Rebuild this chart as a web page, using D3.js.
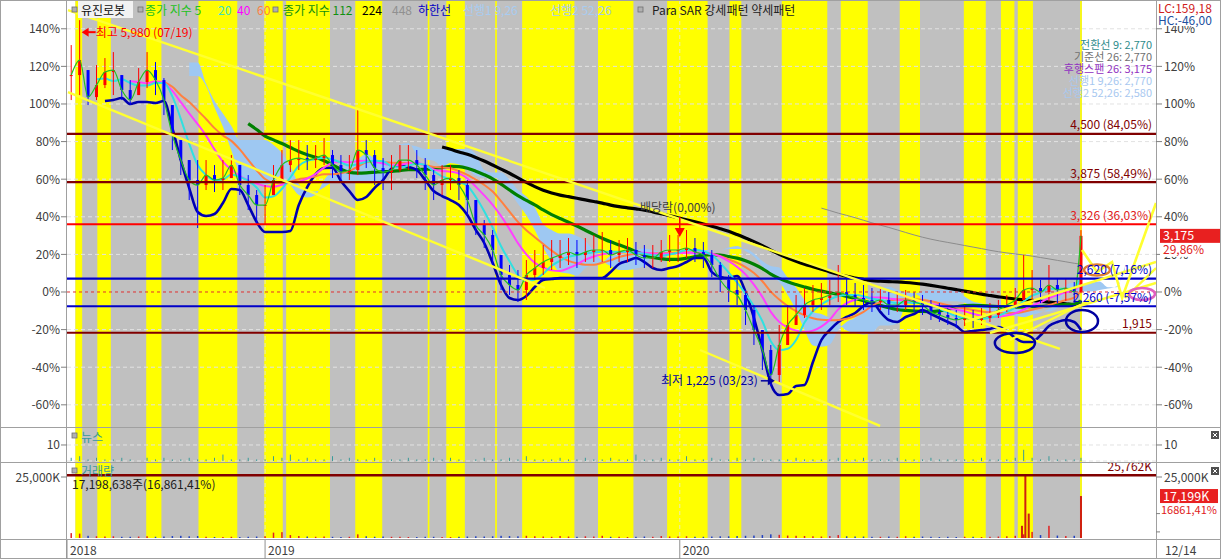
<!DOCTYPE html>
<html><head><meta charset="utf-8"><title>유진로봇</title>
<script src="https://cdn.jsdelivr.net/npm/d3@7/dist/d3.min.js"></script>
<style>
html,body{margin:0;padding:0;background:#fff;}
svg{display:block;}
text{font-family:"Noto Sans CJK KR","Noto Sans",sans-serif;font-size:12px;}
</style></head><body>
<svg id="chart" width="1221" height="559"></svg>
<script>
// ---------------- DATA ----------------
const basePrice = 2445;           // 0% reference price
const daysPerSample = 5;          // one sample per trading week
const lastDay = 601;              // index of last trading day (12/14)
const closePrice = [5266,5461,4980,5136,5305,5331,5071,4941,5175,5331,
 5201,4941,4486,4161,3901,3836,3966,3901,3927,4096,
 3836,3706,3576,3576,3901,4096,4161,4187,4161,4187,
 4226,4096,4005,4031,4291,4226,4057,4005,4031,4161,
 4161,4096,3966,3836,3901,3927,3836,3641,3316,3186,
 2991,2666,2536,2471,2666,2757,2835,2887,2926,2965,
 2926,2965,2991,2991,2926,2965,2991,2926,2887,2887,
 2965,2991,2991,3017,2965,2926,2796,2601,2471,2406,
 2211,1951,1691,1366,1756,2016,2146,2276,2341,2367,
 2406,2445,2406,2367,2341,2315,2341,2276,2276,2341,
 2315,2276,2185,2146,2107,2081,2107,2081,2107,2146,
 2211,2276,2341,2471,2497,2445,2536,2471,2497,2445,
 3175];
const highPrice = [5656,5980,5331,5396,5487,5565,5266,5201,5357,5565,
 5435,5227,4876,4421,4161,4161,4161,4096,4161,4226,
 4096,3966,3771,3836,4096,4291,4421,4421,4356,4356,
 4447,4291,4226,4226,4837,4421,4291,4187,4226,4356,
 4356,4291,4187,4031,4096,4096,4031,3901,3641,3381,
 3251,2926,2796,2731,2861,2991,3056,3121,3121,3147,
 3121,3147,3186,3225,3121,3121,3147,3095,3056,3056,
 3121,3186,3186,3251,3147,3095,2991,2835,2666,2601,
 2471,2276,1951,1756,2016,2276,2406,2497,2536,2562,
 2601,2796,2627,2562,2536,2497,2497,2445,2445,2471,
 2445,2406,2341,2302,2237,2211,2276,2211,2237,2302,
 2341,2406,2497,2926,2731,2601,2796,2627,2627,2575,
 3250];
const lowPrice = [4941,5006,4876,4941,5097,5006,4941,4876,5006,5097,
 5006,4746,4291,3966,3641,3277,3771,3745,3771,3927,
 3706,3511,3316,3316,3706,3901,4005,4031,4031,4057,
 4096,3927,3875,3901,3966,4057,3836,3771,3771,4005,
 4031,3927,3771,3641,3706,3771,3641,3446,3186,3017,
 2796,2471,2406,2315,2341,2601,2666,2731,2757,2796,
 2757,2835,2835,2835,2757,2835,2835,2796,2757,2757,
 2835,2835,2835,2887,2835,2757,2640,2445,2315,2276,
 2016,1756,1431,1225,1275,1756,2016,2107,2185,2211,
 2276,2315,2276,2263,2211,2185,2211,2146,2185,2211,
 2185,2146,2081,2055,2016,1977,2003,1977,2016,2055,
 2107,2185,2237,2341,2300,2300,2320,2300,2330,2300,
 2430];
const lowerBandFirst = 4;          // first sample of the 하한선
const lowerBand = [4928,4941,4967,4889,4915,4915,4902,4928,4577,4161,
 3797,3485,3433,3459,3602,3784,3771,3576,3355,3225,
 3225,3225,3238,3576,3810,3979,4057,4060,3888,3758,
 3641,3680,3800,3900,4050,4096,4070,4031,3901,3758,
 3693,3641,3576,3446,3251,3082,2822,2536,2367,2341,
 2393,2510,2601,2614,2627,2627,2627,2627,2627,2627,
 2705,2809,2848,2887,2835,2757,2731,2757,2783,2835,
 2887,2887,2705,2640,2627,2653,2445,2107,1691,1249,
 1106,1119,1223,1236,1535,1821,1951,2055,2120,2172,
 2263,2315,2185,2081,2055,2120,2159,2211,2159,2107,
 2055,2003,1925,1938,1951,1964,1990,1938,1847,1795,
 1795,1882,2003,2055,2081,2055,1951];
// Parabolic SAR bullish (yellow) runs, in trading-day indices
const sarFirstDay = 5;
const bullStart = [5,18,47,78,117,130,171,214,225,254,270,315,356,393,424,459,494,532,554,564,601];
const bullEnd   = [9,26,56,101,128,156,187,215,236,255,301,336,380,400,451,475,506,545,562,573,602];
// moving averages
const maDays   = [448,224,112,60,40,20,5];
const maColors = ['#8c8c8c','#000000','#008000','#ff8040','#ff40ff','#30e0e0','#22c022'];
const maWidths = [1,3.2,3.2,2,2,2,1.2];
// Ichimoku periods (days)
const ichiTenkan = 9, ichiKijun = 26, ichiSpanB = 52, ichiShift = 26;
// horizontal price levels
const levelPrices = [4500,3875,3326,2620,2260,1915];
const levelLabels = ['4,500 (84,05%)','3,875 (58,49%)','3,326 (36,03%)','2,620 (7,16%)','2,260 (-7,57%)','1,915'];
const levelColors = ['#800000','#800000','#ff0000','#0000c8','#0000c8','#800000'];
// axis ticks
const pctTicks = [140,120,100,80,60,40,20,0,-20,-40,-60];
const yearTickDays = [0,117.5,363.5];
const yearLabels = ['2018','2019','2020'];
const lastDateLabel = '12/14';
// Ichimoku value legend
const ichiLegend = ['전환선 9: 2,770','기준선 26: 2,770','후행스팬 26: 3,175','선행1 9,26: 2,770','선행2 52,26: 2,580'];
const ichiLegendColors = ['#2e8c8c','#707070','#9030c0','#a8c8f0','#a8c8f0'];
// volume (thousand shares): weekly typical, plus daily spikes
const volWeek = [2000,1800,900,700,600,700,500,500,600,700,
 500,600,800,900,700,800,500,400,400,500,
 400,500,600,700,2200,2400,1200,800,600,500,
 600,500,400,500,1500,700,500,600,500,500,
 400,400,500,500,400,400,500,600,700,600,
 700,900,800,700,900,700,600,500,800,600,
 500,700,600,900,500,500,400,500,600,500,
 800,600,600,700,500,500,600,700,700,800,
 900,1000,1200,1500,1300,1000,900,800,700,600,
 800,1200,700,600,600,500,500,600,500,700,
 500,600,500,400,500,400,500,500,400,500,
 600,700,900,1500,2500,1200,5000,1000,800,900];
const volSpikeDay = [566,568,570,601];
const volSpikeK   = [5000,25762,10000,17199];
const volMaxLevel = 25762;
// news counts per week
const newsWeek = [2,3,1,2,1,1,2,1,0,2,1,2,1,1,2,1,1,2,4,1,1,2,1,1,3,2,4,1,2,1,
 1,3,1,2,1,1,2,0,1,1,2,1,1,2,1,2,1,0,1,2,1,1,2,1,3,1,1,1,2,1,
 1,2,1,1,2,1,1,4,1,1,2,1,1,3,1,1,2,1,1,2,1,2,1,1,1,1,2,1,1,1,
 1,2,1,1,2,1,1,1,2,1,1,1,2,1,1,1,1,1,2,1,1,1,2,7,2,1,3,1,1,1,2];
// drawn trend lines (day, price)
const tlDay0   = [0.6,0.6,375.5,532.7,547.5,559.4,627.6];
const tlPrice0 = [6111,5045,1691,2055,1912,1821,2367];
const tlDay1   = [589,283.5,482.3,646,646,606.8,646];
const tlPrice1 = [1704,2497,703,2835,2562,2341,2757];
const zigDays   = [602.1,611,619.9,625.9,646];
const zigPrices = [2991,2705,2835,2367,3602];
// drawn ellipses (center day, center price, radius days, radius price)
const ellDay = [562.3,602.1,611,637.7];
const ellPrice = [1782,2068,2731,2419];
const ellRDay = [11.9,9.5,7.7,7.7];
const ellRPrice = [130,143,72,78];
const ellColors = ['#0000a0','#0000a0','#e08030','#e060c0'];
// annotations
const exDivDay = 363, exDivPrice = 3160;
const lastPctLabel = '29,86%';
const lastVolPctLabel = '16861,41%';
const volLabel = '17,198,638주(16,861,41%)';

// ---------------- SCALES ----------------
const svg = d3.select('#chart');
const L = 67, R = 1156;
const panels = [{top:0,bot:427},{top:428,bot:462},{top:463,bot:538}];
const x = d3.scaleLinear().domain([0,646]).range([L,R]);
const pctPrice = p => basePrice*(1+p/100);
const y = d3.scaleLinear().domain([pctPrice(-71.8), pctPrice(155.3)]).range([427,0]);
const yVol = d3.scaleLinear().domain([0,30738]).range([538,463]);
const yNews = d3.scaleLinear().domain([0,20.6]).range([461,428]);
const wc = i => Math.min(daysPerSample*i + daysPerSample/2, lastDay + 0.5);
const fmt = d3.format(',');

const defs = svg.append('defs');
panels.forEach((p,k)=>defs.append('clipPath').attr('id','clip'+k).append('rect')
  .attr('x',L).attr('y',p.top).attr('width',R-L).attr('height',p.bot-p.top));

// ---------------- BACKGROUND BANDS ----------------
panels.forEach(p=>{
  const g = svg.append('g');
  g.append('rect').attr('x',x(sarFirstDay)).attr('y',p.top).attr('width',x(lastDay+1)-x(sarFirstDay))
    .attr('height',p.bot-p.top).attr('fill','#c0c0c0');
  bullStart.forEach((s,k)=>g.append('rect').attr('x',x(s)).attr('y',p.top)
    .attr('width',x(bullEnd[k])-x(s)).attr('height',p.bot-p.top).attr('fill','#ffff00'));
});

// grid
const grid = svg.append('g');
pctTicks.filter(t=>t!==0).forEach(t=>grid.append('line').attr('x1',L).attr('x2',R)
  .attr('y1',y(pctPrice(t))).attr('y2',y(pctPrice(t))).attr('stroke','#e2e2e2').attr('stroke-dasharray','4,3'));
yearTickDays.slice(1).forEach(d=>grid.append('line').attr('x1',x(d)).attr('x2',x(d))
  .attr('y1',0).attr('y2',538).attr('stroke','#e6e6e6').attr('stroke-dasharray','4,3').attr('opacity',0.8));
[yNews(10), yNews(0)].forEach(v=>grid.append('line').attr('x1',L).attr('x2',R).attr('y1',v).attr('y2',v)
  .attr('stroke','#e2e2e2').attr('stroke-dasharray','4,3'));

// ---------------- MAIN PANEL ----------------
const gm = svg.append('g').attr('clip-path','url(#clip0)');

// Ichimoku cloud (weekly approximation of periods)
const nW = closePrice.length;
const wk = d => Math.round(d/daysPerSample);
const midHL = (i,n) => i<n-1 ? null :
  (d3.max(highPrice.slice(i-n+1,i+1)) + d3.min(lowPrice.slice(i-n+1,i+1)))/2;
const cloud = [];
for(let i=0;i<nW;i++){
  const t = midHL(i,wk(ichiTenkan)), k = midHL(i,wk(ichiKijun)), b = midHL(i,wk(ichiSpanB));
  if(t!==null && k!==null && b!==null) cloud.push({d: daysPerSample*(i+wk(ichiShift))+daysPerSample/2, a:(t+k)/2, b});
}
gm.append('path').datum(cloud).attr('fill','#9ec8f2')
  .attr('d', d3.area().x(d=>x(d.d)).y0(d=>y(d.a)).y1(d=>y(d.b)).curve(d3.curveMonotoneX));

const line = d3.line().defined(d=>d.v!==null).x(d=>x(d.d)).y(d=>y(d.v)).curve(d3.curveMonotoneX);
function maSeries(days){
  const n = wk(days);
  return closePrice.map((c,i)=>({d:wc(i), v: i<n-1 ? null : d3.mean(closePrice.slice(i-n+1,i+1))}));
}
function drawMA(k){
  gm.append('path').datum(maSeries(maDays[k])).attr('fill','none')
    .attr('stroke',maColors[k]).attr('stroke-width',maWidths[k]).attr('d',line);
}
drawMA(0); drawMA(1); drawMA(2);
// lower band 하한선
gm.append('path').datum(lowerBand.map((v,j)=>({d:wc(j+lowerBandFirst), v})))
  .attr('fill','none').attr('stroke','#0000b0').attr('stroke-width',2.6).attr('d',line);
drawMA(3); drawMA(4); drawMA(5);

// candles (weekly bars)
const gc = gm.append('g');
closePrice.forEach((c,i)=>{
  const open = Math.max(lowPrice[i], Math.min(highPrice[i], i ? closePrice[i-1] : c));
  const col = c >= open ? '#ff0000' : '#0000ff';
  const cx = x(wc(i));
  gc.append('line').attr('x1',cx).attr('x2',cx).attr('y1',y(highPrice[i])).attr('y2',y(lowPrice[i]))
    .attr('stroke',col).attr('stroke-width',1);
  gc.append('rect').attr('x',cx-1.5).attr('width',3)
    .attr('y',y(Math.max(open,c))).attr('height',Math.max(1,Math.abs(y(open)-y(c)))).attr('fill',col);
});
drawMA(6);

// horizontal levels
gm.append('line').attr('x1',L).attr('x2',R).attr('y1',y(basePrice)).attr('y2',y(basePrice))
  .attr('stroke','#e03030').attr('stroke-dasharray','3,3').attr('stroke-width',1);
levelPrices.forEach((p,k)=>gm.append('line').attr('x1',L).attr('x2',R).attr('y1',y(p)).attr('y2',y(p))
  .attr('stroke',levelColors[k]).attr('stroke-width',2.2));

// drawn trend lines
tlDay0.forEach((d,k)=>gm.append('line').attr('x1',x(d)).attr('y1',y(tlPrice0[k]))
  .attr('x2',x(tlDay1[k])).attr('y2',y(tlPrice1[k])).attr('stroke','#ffff30').attr('stroke-width',2.4));
gm.append('path').datum(zigDays.map((d,k)=>({d, v:zigPrices[k]}))).attr('fill','none')
  .attr('stroke','#ffff30').attr('stroke-width',2.6)
  .attr('d', d3.line().x(d=>x(d.d)).y(d=>y(d.v)));
// ellipses
ellDay.forEach((d,k)=>gm.append('ellipse').attr('cx',x(d)).attr('cy',y(ellPrice[k]))
  .attr('rx',x(d+ellRDay[k])-x(d)).attr('ry',y(ellPrice[k]-ellRPrice[k])-y(ellPrice[k]))
  .attr('fill','none').attr('stroke',ellColors[k]).attr('stroke-width',2.5));

// level labels
levelPrices.forEach((p,k)=>svg.append('text').attr('x',1152).attr('y',y(p)-4.5)
  .attr('text-anchor','end').attr('fill',levelColors[k]==='#ff0000'?'#e02020':levelColors[k]).text(levelLabels[k]));

// high / low annotations
const hi = d3.maxIndex(highPrice), lo = d3.minIndex(lowPrice);
{
  const tx = x(wc(hi))+2, ty = y(highPrice[hi])+12;
  svg.append('path').attr('d',`M${tx},${ty}L${tx+7},${ty-4.5}L${tx+7},${ty+4.5}Z`).attr('fill','#ff0000');
  svg.append('line').attr('x1',tx+6).attr('x2',tx+14).attr('y1',ty).attr('y2',ty).attr('stroke','#ff0000').attr('stroke-width',2);
  svg.append('text').attr('x',tx+14).attr('y',ty+4.5).attr('fill','#ff0000').text('최고 '+fmt(highPrice[hi])+' (07/19)');
}
{
  const tx = x(wc(lo))+4, ty = y(lowPrice[lo])-5;
  svg.append('path').attr('d',`M${tx},${ty}L${tx-7},${ty-4.5}L${tx-7},${ty+4.5}Z`).attr('fill','#0000a0');
  svg.append('line').attr('x1',tx-14).attr('x2',tx-6).attr('y1',ty).attr('y2',ty).attr('stroke','#0000a0').attr('stroke-width',1.5);
  svg.append('text').attr('x',tx-17).attr('y',ty+4.5).attr('text-anchor','end').attr('fill','#0000a0')
    .text('최저 '+fmt(lowPrice[lo])+' (03/23)');
}
{
  const ax = x(exDivDay+0.5), ay = y(exDivPrice);
  svg.append('line').attr('x1',ax).attr('x2',ax).attr('y1',ay-20).attr('y2',ay-8).attr('stroke','#ff0000').attr('stroke-width',1.5);
  svg.append('path').attr('d',`M${ax-5},${ay-9}L${ax+5},${ay-9}L${ax},${ay}Z`).attr('fill','#ff0000');
  svg.append('text').attr('x',ax-2).attr('y',ay-25).attr('text-anchor','middle').attr('fill','#404040').text('배당락(0,00%)');
}

// ---------------- NEWS PANEL ----------------
const gn = svg.append('g').attr('clip-path','url(#clip1)');
newsWeek.forEach((v,i)=>{ if(v>0) gn.append('line').attr('x1',x(wc(i))).attr('x2',x(wc(i)))
  .attr('y1',yNews(0)).attr('y2',yNews(v)).attr('stroke','#3a9a9a').attr('stroke-width',1); });

// ---------------- VOLUME PANEL ----------------
const gv = svg.append('g').attr('clip-path','url(#clip2)');
volWeek.forEach((v,i)=>{
  const up = closePrice[i] >= (i?closePrice[i-1]:closePrice[i]);
  gv.append('rect').attr('x',x(wc(i))-0.75).attr('width',1.5).attr('y',yVol(v)).attr('height',yVol(0)-yVol(v))
    .attr('fill', up?'#e02020':'#2040c0');
});
volSpikeDay.forEach((d,k)=>gv.append('rect').attr('x',x(d+0.5)-1).attr('width',2)
  .attr('y',yVol(volSpikeK[k])).attr('height',yVol(0)-yVol(volSpikeK[k])).attr('fill','#d02010'));
gv.append('line').attr('x1',L).attr('x2',R).attr('y1',yVol(volMaxLevel)).attr('y2',yVol(volMaxLevel))
  .attr('stroke','#800000').attr('stroke-width',2.5);
svg.append('text').attr('x',1152).attr('y',yVol(volMaxLevel)-4).attr('text-anchor','end').attr('fill','#800000')
  .text(fmt(volMaxLevel)+'K');

// ---------------- FRAME / AXES ----------------
const fr = svg.append('g').attr('stroke','#a0a0a0').attr('stroke-width',1);
[427.5,462.5,539.5].forEach(v=>fr.append('line').attr('x1',0).attr('x2',1221).attr('y1',v).attr('y2',v));
[L-0.5,R+0.5].forEach(v=>fr.append('line').attr('x1',v).attr('x2',v).attr('y1',0).attr('y2',559));
fr.append('rect').attr('x',0.5).attr('y',0.5).attr('width',1220).attr('height',558).attr('fill','none');

// y axes (percent)
const ax = svg.append('g').attr('fill','#404040');
pctTicks.forEach(t=>{
  const yy = y(pctPrice(t));
  svg.append('line').attr('x1',L-6).attr('x2',L).attr('y1',yy).attr('y2',yy).attr('stroke','#808080');
  svg.append('line').attr('x1',R).attr('x2',R+6).attr('y1',yy).attr('y2',yy).attr('stroke','#808080');
  ax.append('text').attr('x',L-7).attr('y',yy+4.5).attr('text-anchor','end').text(t+'%');
  ax.append('text').attr('x',R+8).attr('y',yy+4.5).text(t+'%');
});
// news axis
{
  const yy = yNews(10);
  svg.append('line').attr('x1',L-6).attr('x2',L).attr('y1',yy).attr('y2',yy).attr('stroke','#808080');
  svg.append('line').attr('x1',R).attr('x2',R+6).attr('y1',yy).attr('y2',yy).attr('stroke','#808080');
  ax.append('text').attr('x',L-7).attr('y',yy+4.5).attr('text-anchor','end').text('10');
  ax.append('text').attr('x',R+8).attr('y',yy+4.5).text('10');
}
// volume axis
{
  const yy = yVol(25000);
  svg.append('line').attr('x1',L-6).attr('x2',L).attr('y1',yy).attr('y2',yy).attr('stroke','#808080');
  svg.append('line').attr('x1',R).attr('x2',R+6).attr('y1',yy).attr('y2',yy).attr('stroke','#808080');
  ax.append('text').attr('x',L-7).attr('y',yy+4.5).attr('text-anchor','end').text('25,000K');
  ax.append('text').attr('x',R+8).attr('y',yy+4.5).text('25,000K');
  [yVol(10000), yVol(2500)].forEach(v=>svg.append('line').attr('x1',R).attr('x2',R+4).attr('y1',v).attr('y2',v).attr('stroke','#808080'));
}
// x axis
yearTickDays.forEach((d,k)=>{
  svg.append('line').attr('x1',x(d)).attr('x2',x(d)).attr('y1',540).attr('y2',559).attr('stroke','#909090');
  ax.append('text').attr('x',x(d)+3).attr('y',555).text(yearLabels[k]);
});
ax.append('text').attr('x',R+9).attr('y',555).text(lastDateLabel);

// right side value boxes
{
  const lp = closePrice[nW-1], yy = y(lp);
  svg.append('rect').attr('x',1160).attr('y',yy-7).attr('width',60).attr('height',14).attr('fill','#e82020');
  svg.append('text').attr('x',1163).attr('y',yy+4.5).attr('fill','#fff').style('font-size','12.5px').text(fmt(lp));
  svg.append('rect').attr('x',1160).attr('y',yy+8).attr('width',52).attr('height',13).attr('fill','#fff');
  svg.append('text').attr('x',1163).attr('y',yy+18.5).attr('fill','#e02020').text(lastPctLabel);
  const lv = volSpikeK[volSpikeK.length-1], vy = yVol(lv);
  svg.append('rect').attr('x',1160).attr('y',vy-7).attr('width',58).attr('height',14).attr('fill','#e82020');
  svg.append('text').attr('x',1163).attr('y',vy+4.5).attr('fill','#fff').style('font-size','12.5px').text(fmt(lv)+'K');
  svg.append('text').attr('x',1161).attr('y',vy+18).attr('fill','#e02020').style('font-size','11px').text(lastVolPctLabel);
}
// LC / HC
svg.append('rect').attr('x',1157).attr('y',1).attr('width',63).attr('height',25).attr('fill','#fff');
svg.append('text').attr('x',1158).attr('y',13).attr('fill','#d02020').text('LC:159,18');
svg.append('text').attr('x',1158).attr('y',25).attr('fill','#2050a0').text('HC:-46,00');
// close boxes
[428,464].forEach(v=>{
  svg.append('rect').attr('x',1211).attr('y',v+3).attr('width',8).attr('height',8).attr('fill','#505050');
  svg.append('path').attr('d',`M${1213},${v+5}L${1217},${v+9}M${1217},${v+5}L${1213},${v+9}`).attr('stroke','#fff').attr('stroke-width',1);
});

// ---------------- LEGENDS ----------------
function sq(px,py){ svg.append('rect').attr('x',px).attr('y',py).attr('width',5).attr('height',5)
  .attr('fill','#b0b0b0').attr('stroke','#707070').attr('stroke-width',0.8); }
sq(72,7);
svg.append('rect').attr('x',78).attr('y',1).attr('width',55).attr('height',17).attr('fill','#f2f2f2');
const leg = [[81,'유진로봇','#101010'],[145,'종가 지수 5','#22c022'],[218,'20','#40e0c0'],[237,'40','#ff00ff'],
  [257,'60','#ff8040'],[283,'종가 지수 112','#109010'],[362,'224','#000000'],[392,'448','#909090'],
  [418,'하한선','#0000c0'],[463,'선행1 9,26','#a8ccf0'],[550,'선행2 52,26','#a8ccf0'],[652,'Para SAR 강세패턴  약세패턴','#202020']];
leg.forEach(([lx,s,c])=>svg.append('text').attr('x',lx).attr('y',15).attr('fill',c).text(s));
sq(138,7); sq(273,7); sq(638,7);
ichiLegend.forEach((s,k)=>svg.append('text').attr('x',1152).attr('y',49+k*12).attr('text-anchor','end')
  .style('font-size','11px').attr('fill',ichiLegendColors[k]).text(s));
sq(72,433);
svg.append('text').attr('x',81).attr('y',442).attr('fill','#3a9a9a').text('뉴스');
sq(72,468);
svg.append('text').attr('x',81).attr('y',476).attr('fill','#3a9a9a').text('거래량');
svg.append('text').attr('x',72).attr('y',489).attr('fill','#202020').text(volLabel);
</script></body></html>
